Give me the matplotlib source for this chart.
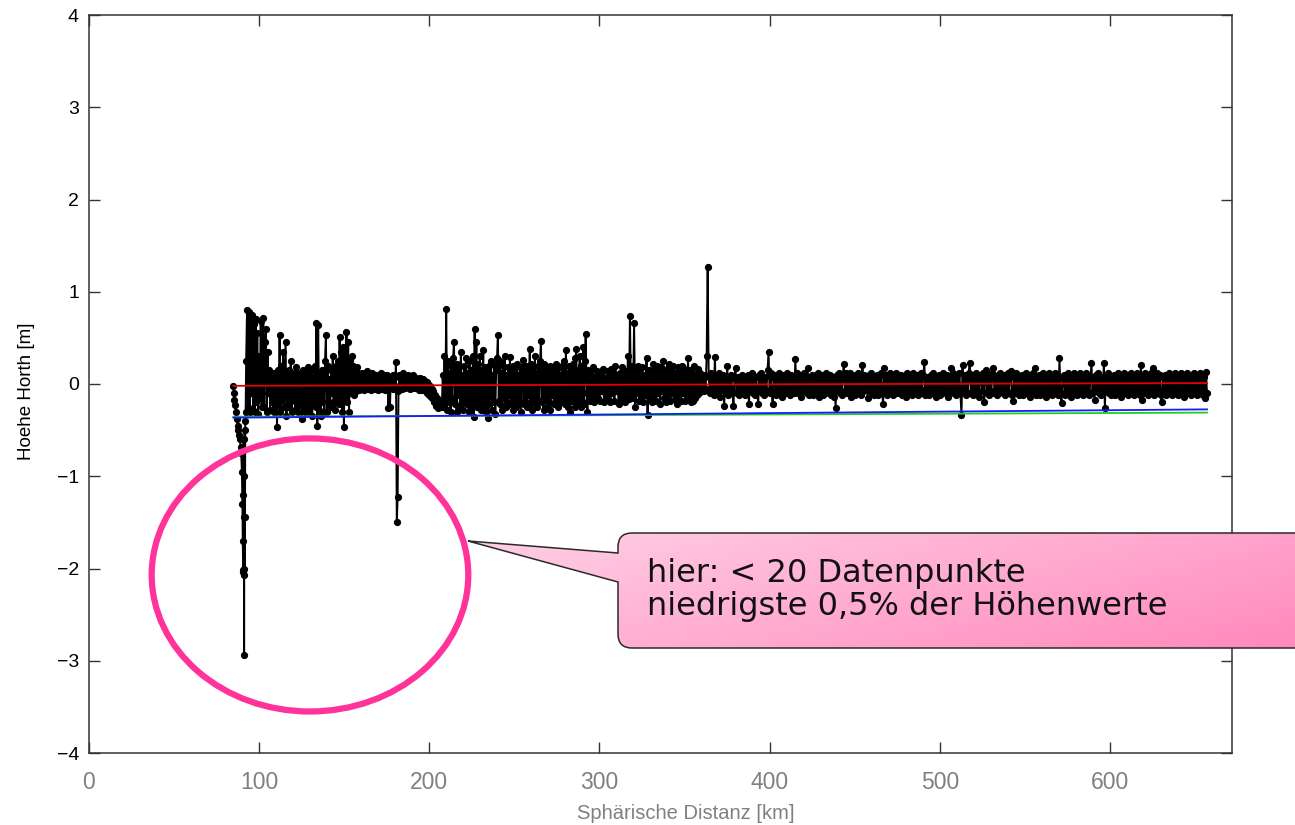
import numpy as np
import matplotlib
matplotlib.use("Agg")
import matplotlib.pyplot as plt
from matplotlib.patches import Ellipse, PathPatch
from matplotlib.path import Path

plt.rcParams['font.family'] = ['Liberation Sans', 'DejaVu Sans']

# ---- height profile along the track (km, m) ----
# steep drop right at the start of the track
dip_km = [85.0, 85.3, 85.6, 86.0, 86.5, 87.0, 87.5, 88.0, 88.4, 88.8, 89.2, 89.6,
          90.0, 90.3, 90.5, 90.7, 90.8, 90.9, 91.0, 91.1, 91.2, 91.3, 91.4, 91.5,
          91.6, 91.8, 92.0, 92.2]
dip_m = [-0.02, -0.10, -0.17, -0.23, -0.30, -0.38, -0.45, -0.50, -0.55, -0.60, -0.68, -0.75,
         -0.95, -1.30, -1.70, -2.02, -1.20, -2.04, -0.60, -2.07, -1.00, -2.94, -1.44, -2.00,
         -0.50, -1.44, -0.40, -0.30]

# evenly sampled track sections
sec1_km = (92.5, 160.0)
sec1_m = [0.25, 0.80, -0.25, 0.78, -0.30, 0.72, -0.10, 0.75, -0.28, 0.65,
          -0.30, 0.70, -0.20, 0.55, -0.32, 0.30, -0.15, 0.68, -0.25, 0.20,
          0.72, -0.25, 0.45, 0.60, -0.30, 0.35, -0.10, 0.15, -0.28, 0.10,
          -0.20, 0.05, -0.30, 0.12, -0.25, 0.08, -0.47, 0.15, -0.20, 0.53,
          -0.30, 0.20, -0.15, 0.35, -0.25, 0.10, 0.46, -0.35, 0.10, -0.25,
          0.15, -0.20, 0.25, -0.30, 0.08, -0.15, 0.12, -0.28, 0.18, -0.25,
          0.08, -0.30, 0.12, -0.20, 0.05, -0.38, 0.15, -0.25, 0.10, -0.30,
          0.12, -0.20, 0.18, -0.30, 0.10, -0.25, 0.15, -0.35, 0.08, -0.20,
          0.20, -0.25, 0.66, -0.45, 0.64, -0.28, 0.10, -0.35, 0.15, -0.20,
          0.12, -0.30, 0.25, 0.53, -0.30, 0.20, -0.18, 0.05, -0.25, 0.15,
          -0.10, 0.30, -0.20, 0.15, -0.28, 0.20, -0.15, 0.25, -0.22, 0.51,
          -0.20, 0.35, -0.30, 0.40, -0.47, 0.30, -0.15, 0.56, -0.20, 0.45,
          -0.30, 0.25, -0.10, 0.30, -0.05, 0.20, -0.12, 0.15, -0.08, 0.18,
          -0.05, 0.12, -0.06, 0.10, -0.04]

sec2_km = (160.0, 207.0)
sec2_m = [0.12, -0.04, 0.10, -0.06, 0.08, -0.02, 0.14, -0.05, 0.10, -0.03,
          0.08, -0.06, 0.12, -0.02, 0.06, -0.05, 0.10, -0.04, 0.09, -0.06,
          0.06, -0.03, 0.12, -0.05, 0.08, -0.02, 0.10, -0.06, 0.07, -0.04,
          0.10, -0.26, 0.05, -0.25, 0.08, -0.04, 0.10, -0.05, 0.06, -0.02,
          0.24, -1.50, -1.23, -0.08,
          0.10, -0.03, 0.08, -0.05, 0.12, -0.02, 0.09, -0.04, 0.07, -0.03,
          0.10, -0.02, 0.06, -0.05, 0.08, -0.03, 0.10, -0.04, 0.06, -0.02,
          0.07, -0.04, 0.05, -0.06, 0.06, -0.03, 0.04, -0.07, 0.05, -0.05,
          0.03, -0.08, 0.02, -0.10, 0.00, -0.12, -0.02, -0.14, -0.05, -0.16,
          -0.08, -0.20, -0.12, -0.24, -0.15, -0.26, -0.18, -0.24, -0.20, -0.25]

sec3_km = (207.0, 293.0)
sec3_m = [-0.22, 0.10, -0.25, 0.30, -0.18, 0.81, -0.28, 0.25, -0.20, 0.12,
          -0.30, 0.20, -0.15, 0.28, 0.46, -0.22, 0.15, -0.30, 0.22, -0.12,
          0.18, -0.25, 0.35, -0.18, 0.10, -0.28, 0.20, -0.15, 0.28, -0.22,
          0.12, -0.30, 0.25, -0.18, 0.15, -0.25, 0.30, -0.36, 0.60, -0.20,
          0.45, -0.25, 0.22, -0.18, 0.30, -0.28, 0.15, -0.20, 0.37, -0.24,
          0.18, -0.30, 0.12, -0.22, -0.37, 0.20, -0.15, 0.25, -0.28, 0.10,
          -0.20, 0.22, -0.32, 0.15, 0.28, 0.53, -0.18, 0.25, -0.22, 0.12,
          -0.28, 0.20, -0.15, 0.30, -0.25, 0.10, -0.20, 0.18, -0.12, 0.29,
          -0.22, 0.15, -0.28, 0.20, -0.18, 0.12, -0.25, 0.22, -0.15, 0.10,
          -0.20, 0.18, -0.30, 0.15, 0.26, -0.22, 0.12, -0.18, 0.20, -0.25,
          0.15, -0.12, 0.38, -0.20, 0.22, -0.28, 0.18, -0.15, 0.30, -0.22,
          0.12, -0.25, 0.20, -0.18, 0.25, 0.47, -0.20, 0.15, -0.28, 0.22,
          -0.15, 0.18, -0.25, 0.12, -0.20, 0.20, -0.28, 0.15, -0.12, 0.10,
          -0.22, 0.15, 0.22, -0.18, 0.12, -0.25, 0.18, -0.15, 0.10, -0.20,
          0.20, -0.15, 0.25, -0.22, 0.37, -0.18, 0.12, -0.25, 0.20, -0.30,
          0.15, -0.18, 0.22, -0.12, 0.28, -0.25, 0.38, -0.20, 0.15, -0.22,
          0.30, -0.25, 0.20, -0.18, 0.40, -0.22, 0.25, 0.54, -0.10, -0.30]

sec4_km = (293.0, 360.0)
sec4_m = [0.15, -0.18, 0.10, -0.12, 0.18, -0.20, 0.08, -0.10, 0.14, -0.15,
          0.10, -0.18, 0.12, -0.08, 0.16, -0.20, 0.06, -0.12, 0.14, -0.16,
          0.08, -0.20, 0.16, -0.10, 0.12, -0.18, 0.20, -0.08, 0.10, -0.22,
          0.12, -0.15, 0.18, -0.10, 0.08, -0.20, 0.14, -0.12, 0.30, -0.16,
          0.74, -0.12, 0.20, -0.15, 0.66, -0.25, 0.15, -0.10, 0.20, -0.18,
          0.12, -0.15, 0.18, -0.20, 0.10, -0.12, 0.28, -0.34, 0.15, -0.15,
          0.10, -0.20, 0.22, -0.12, 0.15, -0.18, 0.20, -0.10, 0.14, -0.22,
          0.18, -0.08, 0.25, -0.15, 0.12, -0.20, 0.16, -0.12, 0.22, -0.18,
          0.14, -0.10, 0.20, -0.16, 0.12, -0.22, 0.18, -0.12, 0.15, -0.18,
          0.20, -0.10, 0.16, -0.18, 0.12, -0.15, 0.28, -0.12, 0.15, -0.20,
          0.12, -0.18, 0.20, -0.15, 0.10, -0.12, 0.16, -0.10, 0.12, -0.08]

sec5_km = (360.0, 657.0)
sec5_m = [0.05, -0.08, 0.10, -0.05, 0.30, 1.27, 0.08, -0.10, 0.12, -0.06,
          0.10, -0.12, 0.29, -0.08, 0.06, -0.10, 0.12, -0.14, 0.08, -0.06,
          0.10, -0.24, 0.06, -0.10, 0.20, -0.12, 0.08, -0.05, 0.10, -0.08,
          -0.24, 0.06, 0.17, -0.10, 0.08, -0.12, 0.05, -0.08, 0.10, -0.06,
          0.08, -0.12, 0.06, -0.10, 0.10, -0.22, 0.05, -0.08, 0.12, -0.10,
          0.06, -0.12, 0.08, -0.06, -0.22, 0.10, -0.08, 0.12, -0.10, 0.05,
          -0.12, 0.08, -0.06, 0.15, 0.35, -0.10, 0.12, -0.08, -0.22, 0.06,
          0.10, -0.12, 0.08, -0.06, 0.12, -0.10, 0.05, -0.14, 0.10, -0.08,
          0.06, -0.10, 0.12, -0.08, 0.08, -0.12, 0.10, -0.06, 0.05, -0.10,
          0.27, -0.08, 0.12, -0.10, 0.06, -0.14, 0.10, -0.08, 0.12, -0.06,
          0.08, -0.10, 0.17, -0.12, 0.06, -0.08, 0.10, -0.12, 0.05, -0.06,
          0.10, -0.08, 0.12, -0.14, 0.08, -0.06, 0.10, -0.12, 0.06, -0.10,
          0.12, -0.08, 0.05, -0.10, 0.10, -0.12, 0.08, -0.14, 0.06, -0.26,
          0.10, -0.08, 0.12, -0.10, 0.06, -0.12, 0.10, 0.22, -0.08, 0.12,
          -0.10, 0.08, -0.06, 0.12, -0.14, 0.10, -0.08, 0.06, -0.12, 0.10,
          -0.08, 0.12, -0.10, 0.06, -0.12, 0.21, -0.08, 0.10, -0.06, 0.08,
          -0.15, 0.10, -0.08, 0.12, -0.10, 0.06, -0.12, 0.08, -0.06, 0.10,
          -0.12, 0.08, -0.10, 0.12, -0.06, -0.22, 0.17, -0.08, 0.10, -0.12,
          0.06, -0.10, 0.12, -0.08, 0.08, -0.12, 0.10, -0.06, 0.12, -0.10,
          0.05, -0.08, 0.10, -0.12, 0.08, -0.10, 0.06, -0.14, 0.12, -0.08,
          0.10, -0.06, 0.08, -0.12, 0.12, -0.10, 0.06, -0.08, 0.10, -0.12,
          0.08, -0.10, 0.12, -0.06, 0.10, 0.24, -0.12, 0.08, -0.10, 0.06,
          -0.12, 0.10, -0.08, 0.12, -0.10, 0.06, -0.14, 0.08, -0.06, 0.10,
          -0.12, 0.08, -0.10, 0.12, -0.08, 0.06, -0.10, 0.10, -0.14, 0.08,
          -0.10, 0.17, -0.08, 0.12, -0.10, 0.06, -0.12, 0.10, -0.08, 0.12,
          -0.10, -0.34, 0.21, -0.08, 0.10, -0.12, 0.06, -0.10, 0.12, 0.23,
          -0.10, 0.08, -0.12, 0.10, -0.06, 0.12, -0.10, 0.08, -0.14, 0.06,
          0.10, -0.08, 0.12, -0.20, 0.08, 0.15, -0.10, 0.06, -0.12, 0.10,
          -0.08, 0.12, 0.17, -0.10, 0.06, -0.12, 0.10, -0.08, 0.12, -0.06,
          0.08, -0.10, 0.10, -0.12, 0.06, -0.08, 0.12, -0.10, 0.08, 0.14,
          -0.12, -0.18, 0.10, -0.08, 0.12, -0.10, 0.06, -0.12, 0.08, -0.06,
          0.10, -0.12, 0.08, -0.10, 0.12, -0.06, 0.10, -0.14, 0.06, -0.08,
          0.12, -0.10, 0.17, -0.12, 0.08, -0.06, 0.10, -0.12, 0.06, -0.10,
          0.12, -0.08, 0.10, -0.14, 0.06, -0.10, 0.12, -0.08, 0.08, -0.12,
          0.10, -0.06, 0.12, -0.10, 0.08, -0.12, 0.28, -0.10, -0.21, 0.06,
          0.10, -0.12, 0.08, -0.10, 0.12, -0.06, 0.10, -0.14, 0.06, -0.08,
          0.12, -0.10, 0.08, -0.12, 0.10, -0.06, 0.12, -0.10, 0.06, -0.12,
          0.08, -0.10, 0.12, -0.08, 0.10, -0.12, 0.06, 0.23, -0.10, 0.08,
          -0.17, 0.10, -0.08, 0.12, -0.10, 0.06, -0.12, 0.08, -0.10, 0.23,
          -0.26, 0.10, -0.08, 0.12, -0.10, 0.06, -0.12, 0.08, -0.06, 0.10,
          -0.12, 0.08, -0.10, 0.12, -0.06, 0.10, -0.14, 0.08, -0.10, 0.12,
          -0.08, 0.06, -0.12, 0.10, -0.08, 0.12, -0.10, 0.06, -0.12, 0.08,
          -0.10, 0.12, -0.08, 0.10, -0.12, 0.21, -0.17, 0.08, -0.10, 0.12,
          -0.06, 0.10, -0.12, 0.08, -0.10, 0.12, -0.08, 0.17, -0.12, 0.06,
          -0.10, 0.12, -0.08, 0.10, -0.12, -0.19, 0.08, -0.06, 0.10, -0.12,
          0.08, -0.10, 0.12, -0.08, 0.06, -0.12, 0.10, -0.10, 0.12, -0.06,
          0.08, -0.12, 0.10, -0.08, 0.12, -0.10, 0.06, -0.14, 0.10, -0.08,
          0.12, -0.10, 0.08, -0.12, 0.10, -0.06, 0.12, -0.10, 0.08, -0.12,
          0.10, -0.08, 0.12, -0.10, 0.06, -0.12, 0.08, -0.15, 0.13, -0.10]

# fitted trend lines
trend_km = [85.0, 657.0]
trend_red_m = [-0.02, 0.01]
trend_green_m = [-0.355, -0.31]
trend_blue_m = [-0.365, -0.275]

x_ticks = [0, 100, 200, 300, 400, 500, 600]
y_ticks = [-4, -3, -2, -1, 0, 1, 2, 3, 4]
x_label = "Sphärische Distanz [km]"
y_label = "Hoehe Horth [m]"
note_text = "hier: < 20 Datenpunkte\nniedrigste 0,5% der Höhenwerte"

# ---- assemble the profile ----
dist = list(dip_km)
height = list(dip_m)
for (k0, k1), vals in [(sec1_km, sec1_m), (sec2_km, sec2_m), (sec3_km, sec3_m),
                       (sec4_km, sec4_m), (sec5_km, sec5_m)]:
    if k0 == dist[-1]:
        pos = np.linspace(k0, k1, len(vals) + 1)[1:]
    else:
        pos = np.linspace(k0, k1, len(vals))
    dist.extend(pos)
    height.extend(vals)

W, H = 1295, 825
fig = plt.figure(figsize=(W / 100, H / 100), dpi=100)
ax = fig.add_axes([88.7 / W, 1 - 753 / H, 1143 / W, 738 / H])

ax.plot(dist, height, color='black', lw=1.4, marker='o', ms=4.2, zorder=2)
ax.plot(trend_km, trend_green_m, color='#22cc22', lw=1.3, zorder=3)
ax.plot(trend_km, trend_blue_m, color='#1a1aff', lw=1.3, zorder=4)
ax.plot(trend_km, trend_red_m, color='#e00000', lw=1.3, zorder=5)

ax.set_xlim(0, 671.5)
ax.set_ylim(-4, 4)
ax.set_xticks(x_ticks)
ax.set_yticks(y_ticks)
ax.tick_params(axis='both', direction='in', length=8, width=1.0, color='#333333',
               top=True, right=True)
ax.tick_params(axis='x', labelsize=16.5, labelcolor='#808080', pad=13)
ax.tick_params(axis='y', labelsize=14, labelcolor='black', pad=7)
for s in ax.spines.values():
    s.set_color('#333333')
    s.set_linewidth(1.1)

ax.set_xlabel(x_label, fontsize=14.5, color='#808080')
ax.xaxis.set_label_coords(0.5226, -0.069)
ax.set_ylabel(y_label, fontsize=13.5, color='black')
ax.yaxis.set_label_coords(-0.047, 0.49)

# highlight ring around the low outliers
ring = Ellipse((130, -2.07), 186, 2.96, fill=False, edgecolor='#ff3399', lw=4.5,
               zorder=10, clip_on=False)
ax.add_patch(ring)

# ---- callout box (figure pixel space) ----
ov = fig.add_axes([0, 0, 1, 1])
ov.set_axis_off()

tip = (468, 541)
L, T, B, R, r = 618, 533, 648, 1320, 14
verts = [tip, (L, 553), (L, T + r), (L, T), (L + r, T), (R, T), (R, B),
         (L + r, B), (L, B), (L, B - r), (L, 582), tip]
codes = [Path.MOVETO, Path.LINETO, Path.LINETO, Path.CURVE3, Path.CURVE3,
         Path.LINETO, Path.LINETO, Path.LINETO, Path.CURVE3, Path.CURVE3,
         Path.LINETO, Path.CLOSEPOLY]
bubble = PathPatch(Path(verts, codes), facecolor='none', edgecolor='#2a2a2a',
                   lw=1.1, zorder=7)
ov.add_patch(bubble)

gx, gy = np.meshgrid(np.linspace(0, 1, 300), np.linspace(0, 1, 120))
t = np.clip(0.65 * gx + 0.35 * gy, 0, 1)[..., None]
c0 = np.array([255, 210, 230]) / 255
c1 = np.array([255, 135, 188]) / 255
img = c0 + (c1 - c0) * t
im = ov.imshow(img, extent=(460, 1320, 650, 530), origin='upper', aspect='auto',
               zorder=6, interpolation='bilinear')
im.set_clip_path(bubble)

ov.text(647, 590, note_text, fontsize=23, family=['DejaVu Sans'], color='#111111',
        ha='left', va='center', linespacing=1.08, zorder=8)

ov.set_xlim(0, W)
ov.set_ylim(H, 0)

fig.savefig('out.png', dpi=100)
